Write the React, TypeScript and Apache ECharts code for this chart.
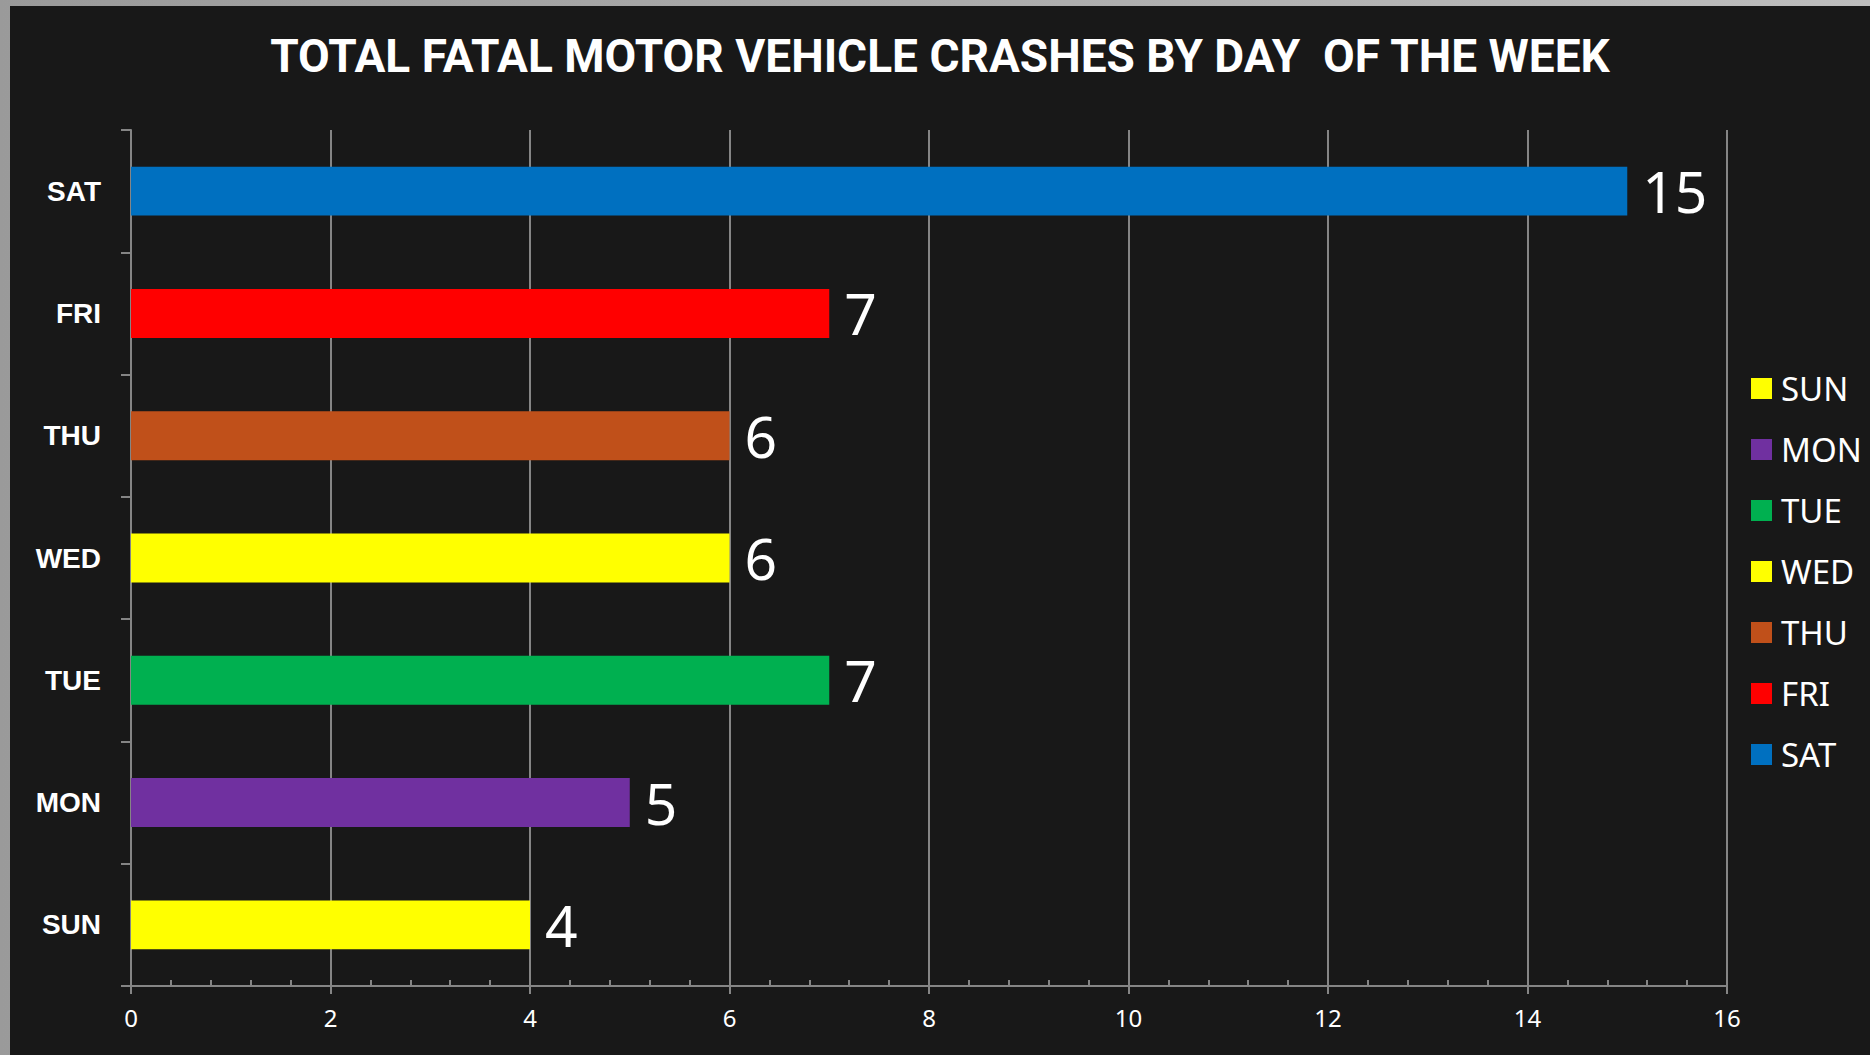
import React, { useEffect, useRef } from "react";
import * as echarts from "echarts";

const TITLE = "TOTAL FATAL MOTOR VEHICLE CRASHES BY DAY  OF THE WEEK";
const days = ["SUN", "MON", "TUE", "WED", "THU", "FRI", "SAT"];
const crashes = [4, 5, 7, 6, 6, 7, 15];
const dayColors = ["#FFFF00", "#7030A0", "#00B050", "#FFFF00", "#C0501A", "#FF0000", "#0070C0"];
const xTicks = { min: 0, max: 16, interval: 2 };

export default function App() {
  const ref = useRef<HTMLDivElement>(null);
  useEffect(() => {
    if (!ref.current) return;
    const chart = echarts.init(ref.current, null, { renderer: "svg" });
    const gray = "#858585";
    const series = days.map((d, i) => ({
      name: d,
      type: "bar",
      stack: "all",
      barWidth: "40%",
      xAxisIndex: 0,
      itemStyle: { color: dayColors[i] },
      label: {
        show: true,
        position: "right",
        distance: 15,
        color: "#ffffff",
        fontSize: 57,
        fontFamily: "Noto Sans",
        formatter: (p: any) => String(p.value),
      },
      data: days.map((_, j) => (j === i ? crashes[i] : "-")),
    }));
    chart.setOption({
      animation: false,
      backgroundColor: "#181818",
      title: {
        text: TITLE,
        left: "center",
        top: 22,
        textStyle: { color: "#ffffff", fontSize: 46, fontWeight: "bold", fontFamily: "Roboto" },
      },
      legend: {
        orient: "vertical",
        left: 1736,
        top: 361,
        itemWidth: 21,
        itemHeight: 21,
        itemGap: 28,
        icon: "rect",
        data: days,
        textStyle: { color: "#ffffff", fontSize: 33, fontFamily: "Noto Sans", padding: [0, 0, 0, 4] },
      },
      grid: { left: 121, right: 143, top: 124, bottom: 69, containLabel: false },
      xAxis: [
        {
          type: "value",
          min: xTicks.min,
          max: xTicks.max,
          interval: xTicks.interval,
          position: "bottom",
          axisLine: { show: true, lineStyle: { color: gray, width: 2 } },
          axisTick: { show: true, length: 8, lineStyle: { color: gray, width: 2 } },
          axisLabel: { color: "#ffffff", fontSize: 24, fontFamily: "Noto Sans", margin: 19 },
          splitLine: { show: true, lineStyle: { color: gray, width: 2 } },
        },
        {
          type: "value",
          min: xTicks.min,
          max: xTicks.max,
          interval: xTicks.interval,
          position: "bottom",
          gridIndex: 0,
          axisLine: { show: false },
          axisTick: { show: false, inside: true },
          minorTick: { show: true, splitNumber: 5, length: 6, lineStyle: { color: gray, width: 2 } },
          axisLabel: { show: false },
          splitLine: { show: false },
        },
      ],
      yAxis: {
        type: "category",
        data: days,
        axisLine: { show: true, lineStyle: { color: gray, width: 2 } },
        axisTick: { show: true, length: 10, lineStyle: { color: gray, width: 2 } },
        axisLabel: { color: "#ffffff", fontSize: 28, fontWeight: "bold", fontFamily: "Liberation Sans", margin: 30 },
        splitLine: { show: false },
      },
      series,
    });
    return () => chart.dispose();
  }, []);
  return (
    <div
      style={{
        position: "fixed",
        left: 0,
        top: 0,
        width: 1870,
        height: 1055,
        background: "linear-gradient(90deg, #9a9a9a 0%, #bdbdbd 100%)",
      }}
    >
      <div ref={ref} style={{ position: "absolute", left: 10, top: 6, width: 1860, height: 1049 }} />
    </div>
  );
}
